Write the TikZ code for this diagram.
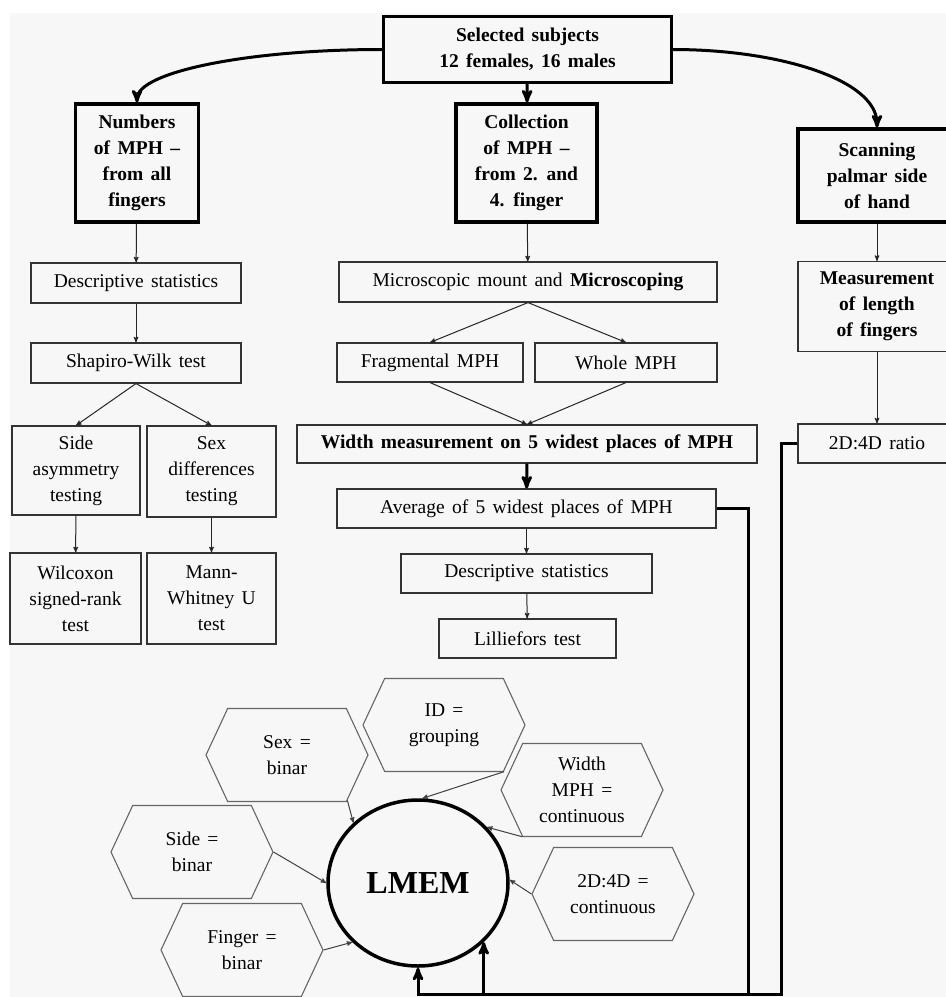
\documentclass[tikz,border=0pt]{standalone}
\usepackage{fontspec}
\setmainfont[WordSpace=1.5]{Liberation Serif}
\usetikzlibrary{arrows,shapes}

\begin{document}
\begin{tikzpicture}[->,>=stealth',x=1pt,y=-1pt,every text node part/.style={align=center},
                    font=\fontsize{19.5}{26}\selectfont]
  \tikzstyle{mainbox}=[draw=black,line width=3.2pt,inner sep=2pt,font=\fontsize{19.5}{26}\selectfont\bfseries]
  \tikzstyle{stepbox}=[draw=black!80,line width=1.1pt,inner sep=2pt]
  \tikzstyle{hexa}=[draw=black!60,line width=1.1pt,shape=signal,signal to=east and west,signal pointer angle=130,
                    minimum width=162pt,minimum height=93pt,inner sep=1pt]
  \tikzstyle{thin}=[line width=1pt,draw=black!85]
  \tikzstyle{heavy}=[line width=3pt,draw=black]

  \useasboundingbox (0,0) rectangle (946,997);
  \clip (0,0) rectangle (946,997);
  \fill[-,black!3] (10,13) rectangle (946,997);

  \node[mainbox,minimum width=288pt,minimum height=66pt] (sel) at (527.5,49.5) {Selected subjects\\12 females, 16 males};
  \node[mainbox,minimum width=123pt,minimum height=118pt] (num) at (137,163) {Numbers\\of MPH --\\from all\\fingers};
  \node[mainbox,minimum width=141pt,minimum height=118pt] (coll) at (526.5,163) {Collection\\of MPH --\\from 2. and\\4. finger};
  \node[mainbox,minimum width=158pt,minimum height=93pt] (scan) at (877,175.5) {Scanning\\palmar side\\of hand};

  \node[stepbox,minimum width=210pt,minimum height=40pt] (ds1) at (136,283) {Descriptive statistics};
  \node[stepbox,minimum width=378pt,minimum height=40pt] (mic) at (528,282) {Microscopic mount and \textbf{Microscoping}};
  \node[stepbox,font=\fontsize{19.5}{26}\selectfont\bfseries,minimum width=158pt,minimum height=90pt] (meas) at (877,306.5) {Measurement\\of length\\of fingers};

  \node[stepbox,minimum width=210pt,minimum height=40pt] (sw) at (136,363) {Shapiro-Wilk test};
  \node[stepbox,minimum width=186pt,minimum height=39pt] (frag) at (430,362.5) {Fragmental MPH};
  \node[stepbox,minimum width=182pt,minimum height=39pt] (whole) at (626,362.5) {Whole MPH};

  \node[stepbox,minimum width=128pt,minimum height=89pt] (side) at (76,470.5) {Side\\asymmetry\\testing};
  \node[stepbox,minimum width=129pt,minimum height=91pt] (sexd) at (211.5,471.5) {Sex\\differences\\testing};
  \node[stepbox,font=\fontsize{19.5}{26}\selectfont\bfseries,minimum width=460pt,minimum height=38pt] (wid) at (527,444) {Width measurement on 5 widest places of MPH};
  \node[stepbox,minimum width=158pt,minimum height=39pt] (ratio) at (877,443.5) {2D:4D ratio};

  \node[stepbox,minimum width=379pt,minimum height=39pt] (avg) at (526.5,508.5) {Average of 5 widest places of MPH};
  \node[stepbox,minimum width=131pt,minimum height=91pt] (wil) at (75.5,598.5) {Wilcoxon\\signed-rank\\test};
  \node[stepbox,minimum width=129pt,minimum height=91pt] (mann) at (211.5,598.5) {Mann-\\Whitney U\\test};
  \node[stepbox,minimum width=251pt,minimum height=39pt] (ds2) at (526.5,573.5) {Descriptive statistics};
  \node[stepbox,minimum width=177pt,minimum height=39pt] (lil) at (527.5,638.5) {Lilliefors test};

  \node[ellipse,draw=black,line width=3.5pt,minimum width=180pt,minimum height=166pt,inner sep=0pt,
        font=\fontsize{32}{36}\selectfont\bfseries] (lmem) at (418,883) {LMEM};
  \node[hexa] (sexh) at (287,755) {Sex =\\binar};
  \node[hexa] (idh) at (444,725) {ID =\\grouping};
  \node[hexa] (widh) at (582,790) {Width\\MPH =\\continuous};
  \node[hexa] (sideh) at (192,852) {Side =\\binar};
  \node[hexa] (d4h) at (613,894) {2D:4D =\\continuous};
  \node[hexa] (fingh) at (242,950) {Finger =\\binar};

  \coordinate (avgturn) at (748,994);
  \coordinate (ratioturn) at (781,994);

  \path (sel) edge[heavy,out=180,in=90,out distance=136pt,in distance=30pt] (num)
              edge[heavy] (coll)
              edge[heavy,out=0,in=90,out distance=105pt,in distance=48pt] (scan)
        (num) edge[thin] (ds1)
        (ds1) edge[thin] (sw)
        (sw.south) edge[thin] (side.north)
                   edge[thin] (sexd.north)
        (side) edge[thin] (wil)
        (sexd) edge[thin] (mann)
        (coll) edge[thin] (mic)
        (mic.south) edge[thin] (frag.north)
                    edge[thin] (whole.north)
        (frag.south) edge[thin] (wid.north)
        (whole.south) edge[thin] (wid.north)
        (wid) edge[heavy] (avg)
        (avg) edge[thin] (ds2)
        (ds2) edge[thin] (lil)
        (scan) edge[thin] (meas)
        (meas) edge[thin] (ratio);

  \draw[heavy] (avg.east) -| (avgturn) -| (lmem.south);
  \draw[heavy] (ratio.west) -| (ratioturn) -| (lmem.-42);

  \path (sexh.-37) edge[thin,draw=black!75] (lmem.137)
        (idh.-38) edge[thin,draw=black!75] (lmem.87)
        (widh.-142) edge[thin,draw=black!75] (lmem.39)
        (sideh.east) edge[thin,draw=black!75] (lmem.west)
        (d4h.west) edge[thin,draw=black!75] (lmem.2)
        (fingh.east) edge[thin,draw=black!75] (lmem.-138);
\end{tikzpicture}
\end{document}
